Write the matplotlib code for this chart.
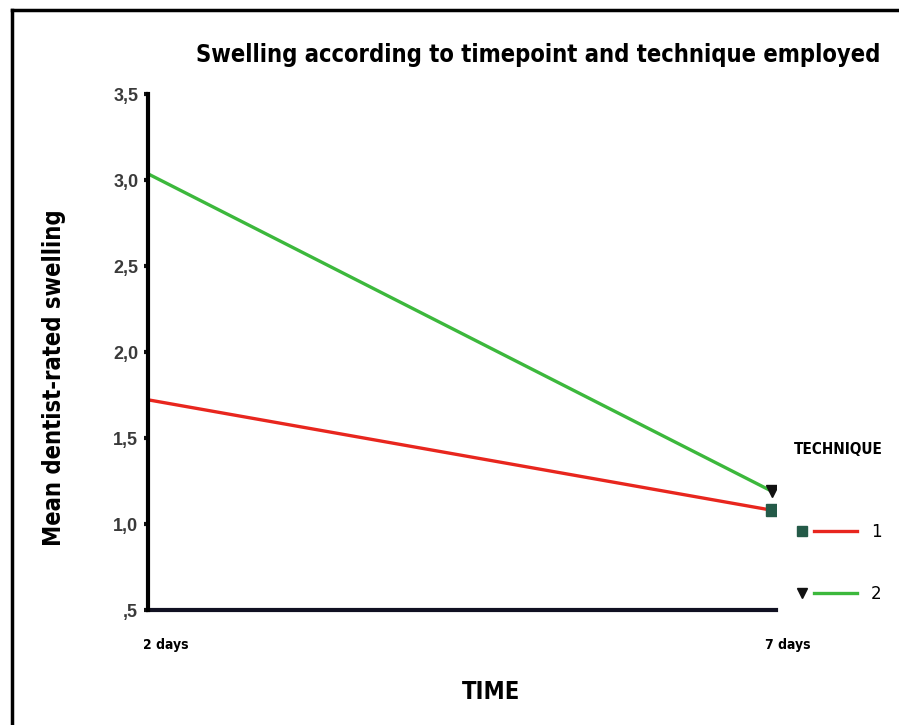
import matplotlib
matplotlib.use("Agg")
import matplotlib.pyplot as plt
from matplotlib.lines import Line2D
from matplotlib.legend_handler import HandlerTuple
from matplotlib.transforms import ScaledTranslation

# dados
tempos = ["2 days", "7 days"]
tecnica_1 = [1.72, 1.08]
tecnica_2 = [3.03, 1.19]
rotulos_y = [",5", "1,0", "1,5", "2,0", "2,5", "3,0", "3,5"]
valores_y = [0.5, 1.0, 1.5, 2.0, 2.5, 3.0, 3.5]

fonte = dict(family="DejaVu Sans", fontstretch="condensed", fontweight="bold")

fig = plt.figure(figsize=(8.99, 7.25), dpi=100)
ax = fig.add_axes([148 / 899, 1 - 610 / 725, 628 / 899, 516 / 725])

x = list(range(len(tempos)))
ax.plot(x, tecnica_1, color="#e8261e", lw=2.4, marker="s", ms=8, markevery=[1],
        mfc="#245a48", mec="#245a48", zorder=3)
ax.plot(x, tecnica_2, color="#3cb83c", lw=2.4, marker="v", ms=8, markevery=[1],
        mfc="#111111", mec="#111111", zorder=3)

ax.set_xlim(-2 / 622, 1 + 4 / 622)
ax.set_ylim(0.5, 3.5)

# eixos
for lado in ["top", "right"]:
    ax.spines[lado].set_visible(False)
ax.spines["left"].set_linewidth(3)
ax.spines["bottom"].set_linewidth(3)
ax.spines["bottom"].set_color("#111122")
ax.spines["left"].set_zorder(4)

ax.set_yticks(valores_y)
ax.set_yticklabels(rotulos_y, fontsize=13, color="#3a3a3a", family="Liberation Sans",
                   fontweight="bold")
ax.tick_params(axis="y", length=3, width=3, pad=4, color="#111111")

ax.set_xticks(x)
ax.set_xticklabels(tempos, fontsize=10, **fonte)
ax.tick_params(axis="x", length=0, pad=20)
for rotulo in ax.get_xticklabels():
    rotulo.set_ha("left")
    rotulo.set_transform(rotulo.get_transform() + ScaledTranslation(-0.07, 0, fig.dpi_scale_trans))

ax.set_ylabel("Mean dentist-rated swelling", fontsize=17, labelpad=34, **fonte)
ax.yaxis.label.set_y(0.45)

fig.text(538 / 899, 1 - 55 / 725, "Swelling according to timepoint and technique employed",
         fontsize=17, ha="center", va="center", **fonte)
fig.text(491 / 899, 1 - 692 / 725, "TIME", fontsize=17, ha="center", va="center", **fonte)
fig.text(838 / 899, 1 - 450 / 725, "TECHNIQUE", fontsize=11, ha="center", va="center", **fonte)

# legenda
marcador_1 = Line2D([], [], ls="none", marker="s", ms=7, mfc="#245a48", mec="#245a48")
linha_1 = Line2D([], [], color="#e8261e", lw=2.4)
marcador_2 = Line2D([], [], ls="none", marker="v", ms=7, mfc="#111111", mec="#111111")
linha_2 = Line2D([], [], color="#3cb83c", lw=2.4)
fig.legend([(marcador_1, linha_1), (marcador_2, linha_2)], ["1", "2"],
           handler_map={tuple: HandlerTuple(ndivide=2, pad=-0.6)},
           loc="center", bbox_to_anchor=(831 / 899, 1 - 563 / 725),
           frameon=False, fontsize=12, handlelength=4.6, labelspacing=2.65,
           handletextpad=0.8)

# moldura
fig.add_artist(Line2D([12 / 899, 12 / 899], [0, 1 - 10 / 725], color="black", lw=2.5))
fig.add_artist(Line2D([12 / 899, 1], [1 - 10 / 725, 1 - 10 / 725], color="black", lw=2.5))

fig.savefig("out.png", dpi=100)
